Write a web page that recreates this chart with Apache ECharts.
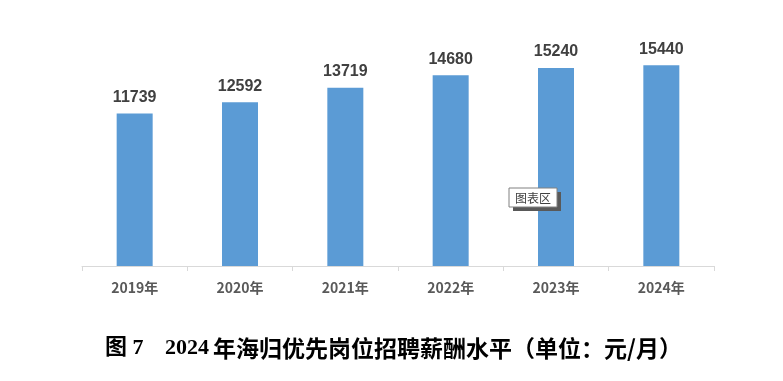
<!DOCTYPE html>
<html><head><meta charset="utf-8">
<script src="https://cdn.jsdelivr.net/npm/echarts@6/dist/echarts.min.js"></script>
<style>html,body{margin:0;padding:0;background:#fff}#c{width:783px;height:381px}</style>
</head><body><div id="c"></div>
<script>
const categories = ['2019年','2020年','2021年','2022年','2023年','2024年'];
const values = [11739, 12592, 13719, 14680, 15240, 15440];
const titleParts = ['图 7', '2024', '年海归优先岗位招聘薪酬水平（单位：元/月）'];

const chart = echarts.init(document.getElementById('c'));
const tFont = 'bold 22px "Liberation Serif", "Noto Sans CJK SC"';
chart.setOption({
  animation: false,
  grid: {left: 82, right: 69, top: 32, bottom: 115},
  xAxis: {
    type: 'category', data: categories,
    axisLine: {lineStyle: {color: '#d9d9d9', width: 1}},
    axisTick: {show: true, length: 5, lineStyle: {color: '#d9d9d9'}},
    axisLabel: {color: '#595959', fontSize: 14, fontWeight: 'bold', margin: 15, fontFamily: 'Noto Sans CJK SC'}
  },
  yAxis: {type: 'value', min: 0, max: 18000, show: false, splitLine: {show: false}},
  series: [{
    type: 'bar', data: values, barWidth: 36,
    itemStyle: {color: '#5B9BD5'},
    label: {show: true, position: 'top', distance: 8, color: '#404040', fontSize: 16, fontWeight: 'bold', fontFamily: 'Liberation Sans'}
  }],
  graphic: [
    {type: 'rect', z: 100, shape: {x: 513, y: 192, width: 48, height: 19}, style: {fill: '#595959'}, silent: true},
    {type: 'rect', z: 101, shape: {x: 509, y: 188, width: 48, height: 19}, style: {fill: '#fff', stroke: '#808080', lineWidth: 1}, silent: true},
    {type: 'text', z: 102, x: 533, y: 198, style: {text: '图表区', fill: '#404040', font: '12px "Noto Sans CJK SC"', align: 'center', verticalAlign: 'middle'}, silent: true},
    {type: 'text', z: 102, x: 105, y: 348, style: {text: titleParts[0], fill: '#000', font: tFont, align: 'left', verticalAlign: 'middle'}, silent: true},
    {type: 'text', z: 102, x: 165, y: 348, style: {text: titleParts[1], fill: '#000', font: tFont, align: 'left', verticalAlign: 'middle'}, silent: true},
    {type: 'text', z: 102, x: 213, y: 348, style: {text: titleParts[2], fill: '#000', font: 'bold 23px "Noto Sans CJK SC"', align: 'left', verticalAlign: 'middle'}, silent: true}
  ]
});
</script></body></html>
